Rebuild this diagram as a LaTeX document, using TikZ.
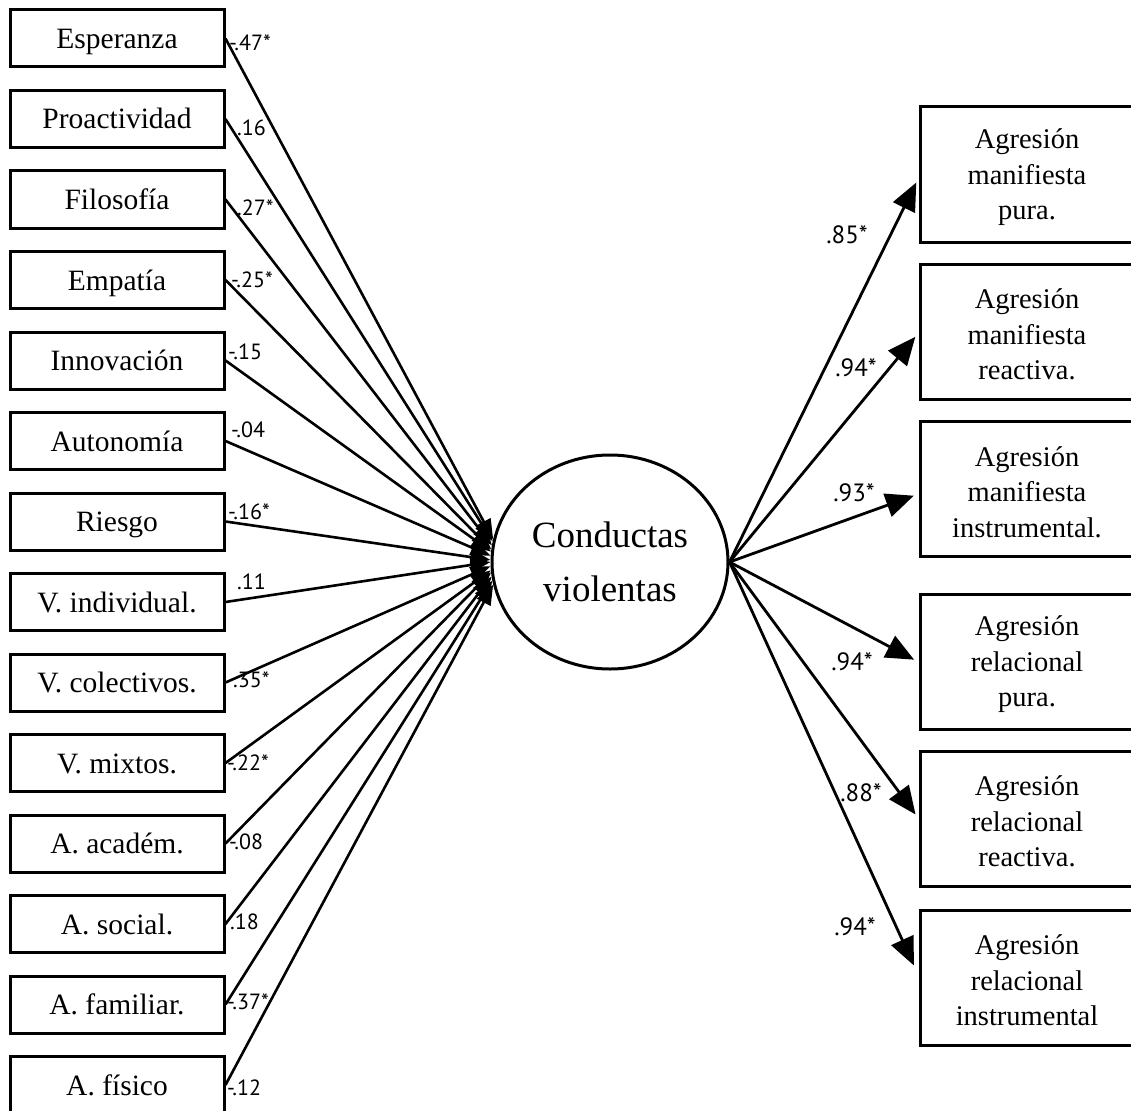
\documentclass[tikz,border=0pt]{standalone}
\usepackage{fontspec}
\setmainfont{Liberation Serif}
\newfontfamily\labfont{PT Sans}
\usetikzlibrary{arrows.meta,shapes.geometric}
\begin{document}
\begin{tikzpicture}[x=1pt,y=-1pt,
  lbox/.style={draw, line width=3pt, minimum width=214pt, minimum height=57pt, inner sep=0pt,
    font=\fontsize{29.5}{34}\selectfont, text height=20pt, text depth=0pt},
  rbox/.style={draw, line width=3pt, minimum width=214pt, minimum height=135pt, inner sep=0pt,
    align=center, font=\fontsize{28.5}{35.5}\selectfont},
  rtext/.style={inner sep=0pt, align=center, font=\fontsize{28.5}{35.5}\selectfont},
  ellnode/.style={draw, ellipse, line width=3pt, minimum width=236pt, minimum height=214pt, inner sep=0pt,
    align=center, font=\fontsize{37}{50}\selectfont},
  larr/.style={line width=2.6pt, -{Triangle[length=20pt,width=15pt]}},
  rarr/.style={line width=2.8pt, -{Triangle[length=28pt,width=24pt]}, shorten >=5pt},
  llab/.style={anchor=west, inner sep=0pt, font=\labfont\fontsize{22}{24}\selectfont},
  rlab/.style={inner sep=0pt, font=\labfont\fontsize{25}{28}\selectfont}
]
\useasboundingbox (0,0) rectangle (1131,1110);
\fill[white] (0,0) rectangle (1131,1110);

\foreach \t [count=\i from 0] in {Esperanza, Proactividad, Filosofía, Empatía, Innovación, Autonomía, Riesgo, V. individual., V. colectivos., V. mixtos., A. académ., A. social., A. familiar., A. físico}
  \node[lbox] (l\i) at (117, {38.5+80.5*\i}) {\t};

\node[ellnode] (ell) at (610,562) {\raisebox{4pt}{Conductas}\\violentas};

\foreach \i [evaluate=\i as \a using 169+\i*22/13] in {0,...,13}
  \draw[larr] (l\i.east) -- (ell.\a);

\foreach \x/\y/\t [count=\k] in {229/43/-.47*, 237/128/.16, 237/208/.27*, 231/280/-.25*, 228/352/-.15, 231/430/-.04, 228/512/-.16*, 237/582/.11, 233/680/.35*, 227/763/-.22*, 229/842/-.08, 230/922/.18, 227/1002/-.37*, 227/1088/-.12}
  \node[llab] (la\k) at (\x,\y) {\t};

\foreach \y/\t [count=\k] in {174.5/{Agresión\\manifiesta\\pura.}, 331.5/{Agresión\\manifiesta\\reactiva.}, 489/{Agresión\\manifiesta\\instrumental.}, 661.5/{Agresión\\relacional\\pura.}, 818.5/{Agresión\\relacional\\reactiva.}, 977.5/{Agresión\\relacional\\instrumental}}
{
  \node[rbox] (r\k) at (1027,\y) {};
  \node[rtext] (rt\k) at (1027,\y+3) {\t};
}

\draw[rarr] (ell.east) -- ([yshift=-3.5pt]r1.west);
\draw[rarr] (ell.east) -- ([yshift=-1.5pt]r2.west);
\draw[rarr] (ell.east) -- ([yshift=-5pt]r3.west);
\draw[rarr] (ell.east) -- ([yshift=-0.5pt]r4.west);
\draw[rarr] (ell.east) -- (r5.west);
\draw[rarr, shorten >=11pt] (ell.east) -- ([yshift=2pt]r6.west);

\node[rlab] (b1) at (847,235) {.85*};
\node[rlab] (b2) at (856,368) {.94*};
\node[rlab] (b3) at (854,493) {.93*};
\node[rlab] (b4) at (852,662) {.94*};
\node[rlab] (b5) at (861,793) {.88*};
\node[rlab] (b6) at (855,927) {.94*};
\end{tikzpicture}
\end{document}
